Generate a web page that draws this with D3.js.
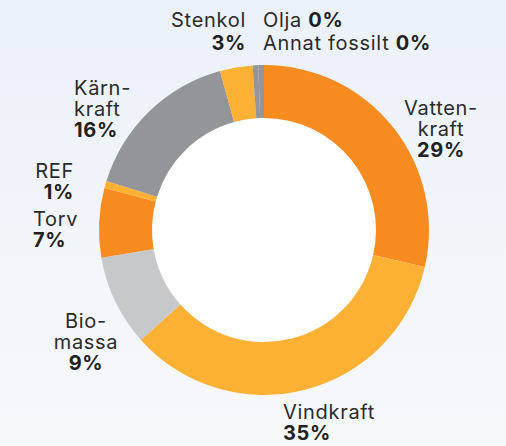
<!DOCTYPE html>
<html>
<head>
<meta charset="utf-8">
<script src="https://cdn.jsdelivr.net/npm/d3@7"></script>
<style>
  html, body { margin: 0; padding: 0; }
  body { width: 506px; height: 446px; overflow: hidden; }
  text { font-family: Inter, "Noto Sans", sans-serif; fill: #2b2b2b; letter-spacing: 0.7px; }
  .pct { font-weight: 700; fill: #231f20; }
</style>
</head>
<body>
<div id="chart"></div>
<script>
// Elproduktion per kraftslag (andel)
const categories = ["Vattenkraft", "Vindkraft", "Biomassa", "Torv", "REF", "Kärnkraft", "Stenkol", "Olja", "Annat fossilt"];
const values = [28.6, 34.8, 8.9, 6.8, 0.7, 15.9, 3.2, 0.55, 0.55];
const shownPct = ["29%", "35%", "9%", "7%", "1%", "16%", "3%", "0%", "0%"];
const labelLines = [["Vatten-", "kraft"], ["Vindkraft"], ["Bio-", "massa"], ["Torv"], ["REF"], ["Kärn-", "kraft"], ["Stenkol"], ["Olja"], ["Annat fossilt"]];

const width = 506;
const height = 446;
const cx = 264, cy = 230;
const outerR = 165, innerR = 112;

const color = d3.scaleOrdinal()
    .domain(categories)
    .range(["#f68b1f", "#fcb034", "#c7c8ca", "#f68b1f", "#fcb034", "#939598", "#fcb034", "#939598", "#939598"]);

const svg = d3.select("#chart")
    .append("svg")
    .attr("width", width)
    .attr("height", height);

const grad = svg.append("defs").append("linearGradient")
    .attr("id", "bg")
    .attr("x1", 0).attr("y1", 0).attr("x2", 0).attr("y2", 1);
grad.append("stop").attr("offset", "0%").attr("stop-color", "#ebf1fa");
grad.append("stop").attr("offset", "100%").attr("stop-color", "#f7f8fa");

svg.append("rect")
    .attr("width", width)
    .attr("height", height)
    .attr("fill", "url(#bg)");

const pie = d3.pie().sort(null).value(d => d.value);
const arc = d3.arc().innerRadius(innerR).outerRadius(outerR);

const rows = categories.map((c, i) => ({ name: c, value: values[i], pct: shownPct[i], lines: labelLines[i] }));

const g = svg.append("g").attr("transform", `translate(${cx},${cy})`);

g.append("circle").attr("r", innerR).attr("fill", "#ffffff");

g.selectAll("path")
    .data(pie(rows))
    .enter().append("path")
    .attr("d", arc)
    .attr("fill", d => color(d.data.name));

// label placement (hand placed, like the original)
const labelPos = {
    "Vattenkraft":   { x: 441, y: 115, anchor: "middle" },
    "Vindkraft":     { x: 283, y: 419, anchor: "start" },
    "Biomassa":      { x: 86,  y: 328, anchor: "middle" },
    "Torv":          { x: 33,  y: 226, anchor: "start" },
    "REF":           { x: 74,  y: 178, anchor: "end" },
    "Kärnkraft":     { x: 74,  y: 95,  anchor: "start" },
    "Stenkol":       { x: 246, y: 27,  anchor: "end" },
    "Olja":          { x: 263, y: 27,  anchor: "start", inline: true },
    "Annat fossilt": { x: 263, y: 50,  anchor: "start", inline: true }
};
const lineH = 21;

rows.forEach(r => {
    const p = labelPos[r.name];
    const t = svg.append("text")
        .attr("x", p.x)
        .attr("y", p.y)
        .attr("text-anchor", p.anchor)
        .style("font-size", "20px");
    if (p.inline) {
        t.append("tspan").text(r.lines[0] + " ");
        t.append("tspan").attr("class", "pct").text(r.pct);
    } else {
        r.lines.forEach((l, i) => {
            t.append("tspan").attr("x", p.x).attr("dy", i === 0 ? 0 : lineH).text(l);
        });
        t.append("tspan").attr("class", "pct").attr("x", p.x).attr("dy", r.name === "Stenkol" ? 23 : lineH).text(r.pct);
    }
});
</script>
</body>
</html>
